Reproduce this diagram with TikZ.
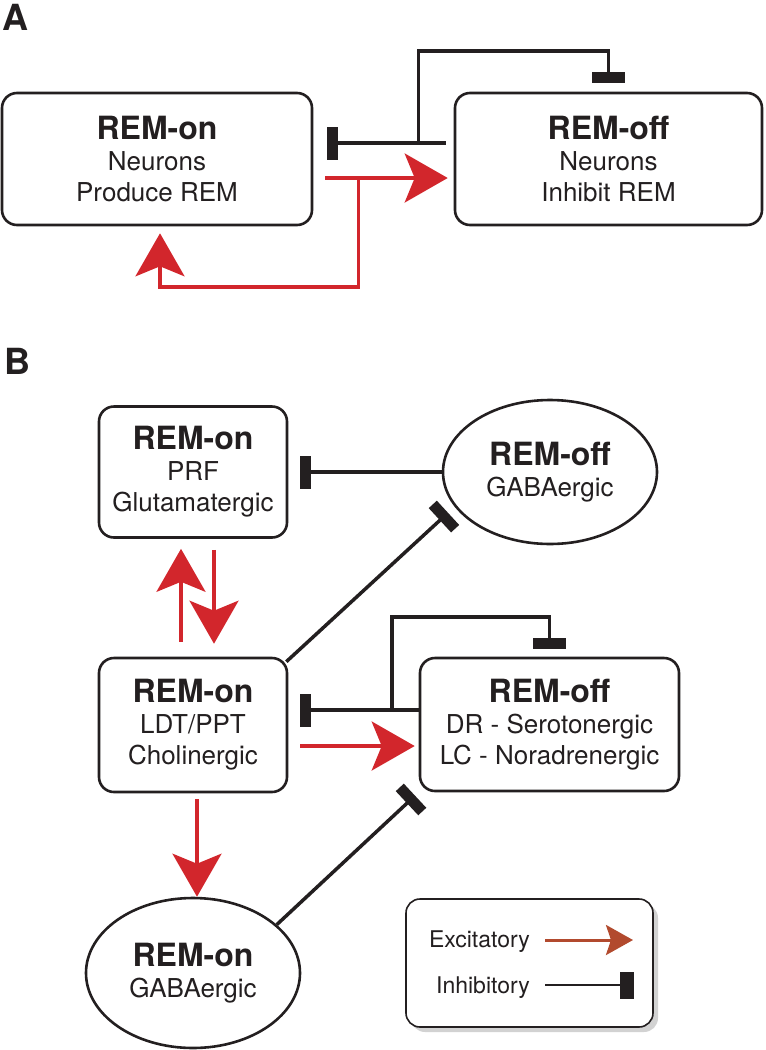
\documentclass[tikz,border=0pt]{standalone}
\usepackage{fontspec}
\setmainfont{TeX Gyre Heros}
\usetikzlibrary{arrows.meta,shapes.geometric,shadows}
\definecolor{exred}{RGB}{210,38,44}
\definecolor{exbrown}{RGB}{178,74,46}
\definecolor{ink}{RGB}{35,31,32}
\newcommand{\remhead}[1]{{\fontsize{32}{32}\selectfont\bfseries #1}}
\begin{document}
\begin{tikzpicture}[x=1pt,y=-1pt,
  box/.style={draw=ink, line width=2.6pt, rounded corners=15pt, align=center, inner sep=0pt, text=ink, font=\fontsize{26}{31}\selectfont},
  ell/.style={draw=ink, ellipse, line width=2.6pt, align=center, inner sep=0pt, text=ink, font=\fontsize{26}{31}\selectfont},
  exc/.style={draw=exred, line width=3.4pt, -{Stealth[length=43pt,width=49pt,inset=10pt]}},
  inh/.style={draw=ink, line width=3.5pt, -{Rectangle[length=11pt,width=33pt]}},
  panel/.style={anchor=base west, inner sep=0pt, text=ink, font=\fontsize{36}{36}\selectfont\bfseries},
  legtext/.style={anchor=base east, inner sep=0pt, text=ink, font=\fontsize{23}{27}\selectfont}
]
\useasboundingbox (0,0) rectangle (766,1050);

% ---------- Panel A ----------
\node[panel] (labA) at (2,30) {A};
\node[box, minimum width=310pt, minimum height=132pt] (Aon) at (157,159) {\remhead{REM-on}\\Neurons\\Produce REM};
\node[box, minimum width=307pt, minimum height=132pt] (Aoff) at (608.5,159) {\remhead{REM-off}\\Neurons\\Inhibit REM};

\draw[inh] ([xshift=-8pt,yshift=16pt]Aoff.west) -- ([xshift=14pt,yshift=16pt]Aon.east);
\coordinate (Aj) at (418.5,143);
\draw[inh] (Aj) -- ++(0,-92) -| ([yshift=9pt]Aoff.north);

\draw[exc] ([xshift=12pt,yshift=-19pt]Aon.east) -- ([xshift=-6pt,yshift=-19pt]Aoff.west);
\coordinate (Aj2) at (358.5,178);
\draw[exc] (Aj2) -- ++(0,109) -| ([xshift=3pt,yshift=-7pt]Aon.south);

% ---------- Panel B ----------
\node[panel] (labB) at (4,374) {B};
\node[box, minimum width=188pt, minimum height=131pt] (PRF) at (193,472) {\remhead{REM-on}\\PRF\\Glutamatergic};
\node[ell, minimum width=214pt, minimum height=144pt] (Boffg) at (550,472) {\remhead{REM-off}\\GABAergic};
\node[box, minimum width=188pt, minimum height=134pt] (LDT) at (193,725) {\remhead{REM-on}\\LDT/PPT\\Cholinergic};
\node[box, minimum width=259pt, minimum height=133pt] (DR) at (549.5,724.5) {\remhead{REM-off}\\DR - Serotonergic\\LC - Noradrenergic};
\node[ell, minimum width=214pt, minimum height=150pt] (Bong) at (193,973) {\remhead{REM-on}\\GABAergic};

\draw[inh] (Boffg.west) -- ([xshift=12pt]PRF.east);
\draw[inh, shorten >=9pt] ([xshift=-2pt,yshift=-5pt]LDT.north east) -- (Boffg.200);
\draw[exc] ([xshift=-12pt,yshift=15pt]LDT.north) -- ([xshift=-12pt,yshift=-10pt]PRF.south);
\draw[exc] ([xshift=21pt,yshift=-11pt]PRF.south) -- ([xshift=21pt,yshift=13pt]LDT.north);
\draw[inh] ([yshift=14.5pt]DR.west) -- ([xshift=12pt,yshift=15pt]LDT.east);
\coordinate (Bj) at (392,710);
\draw[inh] (Bj) -- ++(0,-93) -| ([yshift=8pt]DR.north);
\draw[exc] ([xshift=12pt,yshift=-21pt]LDT.east) -- ([xshift=-4pt,yshift=-21.5pt]DR.west);
\draw[exc] ([xshift=4pt,yshift=-6pt]LDT.south) -- ([xshift=4pt]Bong.north);
\draw[inh, shorten >=5pt] (Bong.30) -- (DR.south west);

% ---------- Legend ----------
\node[draw=ink, line width=1.6pt, rounded corners=14pt, fill=white, minimum width=247pt, minimum height=128pt,
      drop shadow={shadow xshift=5pt, shadow yshift=-5pt, fill=black!35}] (leg) at (529.5,963) {};
\node[legtext] (lexc) at (530,947) {Excitatory};
\node[legtext] (linh) at (530,993) {Inhibitory};
\coordinate (le1) at (545,940);
\coordinate (le2) at (633,940);
\coordinate (li1) at (545,985);
\coordinate (li2) at (634,985);
\draw[draw=exbrown, line width=3pt, -{Stealth[length=27pt,width=30pt,inset=5pt]}] (le1) -- (le2);
\draw[draw=ink, line width=2.8pt, -{Rectangle[length=14pt,width=27pt]}] (li1) -- (li2);
\end{tikzpicture}
\end{document}
